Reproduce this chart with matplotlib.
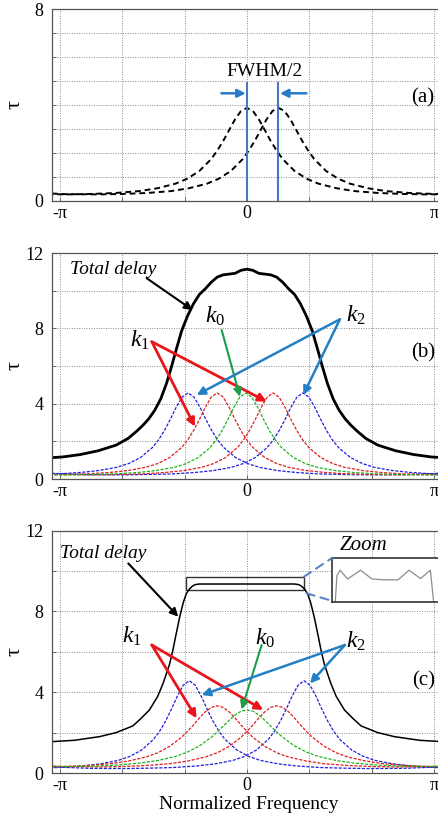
import numpy as np
import matplotlib
matplotlib.use("Agg")
import matplotlib.pyplot as plt
from matplotlib.patches import Rectangle, ConnectionPatch

plt.rcParams['font.family'] = ['Liberation Serif', 'DejaVu Serif']
plt.rcParams['mathtext.fontset'] = 'custom'
plt.rcParams['mathtext.rm'] = 'Liberation Serif'
plt.rcParams['mathtext.it'] = 'Liberation Serif:italic'

PI = np.pi

# ---- data ----
# one-sided offsets from a resonance centre (rad) and the delay at that offset
dx_half = [0, 0.1, 0.2, 0.3, 0.4, 0.5, 0.6, 0.8, 1.0, 1.2, 1.5, 1.8, 2.2, 2.6, 3.0, 3.6, 4.3]
tau_a = [3.88, 3.75, 3.40, 2.95, 2.49, 2.09, 1.74, 1.24, 0.92, 0.71, 0.52, 0.40, 0.32, 0.28, 0.26, 0.27, 0.36]
tau_k = [4.57, 4.35, 3.81, 3.16, 2.56, 2.06, 1.67, 1.14, 0.82, 0.62, 0.45, 0.35, 0.27, 0.24, 0.22, 0.23, 0.31]
tau_red_c = [3.33, 3.25, 3.03, 2.72, 2.38, 2.06, 1.77, 1.32, 1.00, 0.79, 0.59, 0.46, 0.37, 0.32, 0.30, 0.32, 0.41]
tau_green_c = [3.12, 3.06, 2.87, 2.61, 2.32, 2.03, 1.77, 1.34, 1.04, 0.82, 0.62, 0.49, 0.39, 0.34, 0.32, 0.34, 0.44]

centres_a = [0.0, 0.53]
centres_b = {'blue': [-0.99, 0.94], 'red': [-0.50, 0.44], 'green': [-0.02]}
centres_c = {'blue': [-0.97, 0.96], 'red': [-0.50, 0.50], 'green': [0.0]}

# total delay, one-sided (symmetric about 0)
tot_b_x = [0, 0.1, 0.2, 0.3, 0.4, 0.5, 0.6, 0.7, 0.8, 0.9, 1.0, 1.1, 1.2, 1.27, 1.35, 1.45, 1.55,
           1.65, 1.75, 1.85, 2.0, 2.2, 2.5, 2.8, 3.1, 3.3]
tot_b_y = [11.14, 11.08, 10.92, 10.88, 10.84, 10.72, 10.45, 10.1, 9.8, 9.3, 8.65, 7.85, 6.75,
           5.95, 5.1, 4.25, 3.65, 3.2, 2.85, 2.55, 2.15, 1.8, 1.5, 1.3, 1.17, 1.13]
tot_c_x = [0, 0.5, 0.8, 0.87, 0.92, 0.97, 1.02, 1.07, 1.13, 1.2, 1.245, 1.3, 1.41, 1.5, 1.64,
           1.8, 1.92, 2.2, 2.48, 2.9, 3.3]
tot_c_y = [9.36, 9.36, 9.36, 9.33, 9.25, 9.1, 8.88, 8.45, 7.74, 6.75, 6.09, 5.4, 4.44, 3.8,
           3.12, 2.65, 2.33, 2.0, 1.8, 1.62, 1.55]

# zoomed flat top (inset, arbitrary units)
zoom_u = [0.03, 0.045, 0.074, 0.142, 0.26, 0.363, 0.48, 0.6, 0.70, 0.805, 0.894, 0.924]
zoom_v = [0.0, 0.6, 0.72, 0.52, 0.72, 0.52, 0.50, 0.50, 0.72, 0.53, 0.72, 0.0]


def full(dx, tau):
    dx = np.array(dx)
    tau = np.array(tau)
    return np.concatenate([-dx[:0:-1], dx]), np.concatenate([tau[:0:-1], tau])


W, H = 439, 819
fig = plt.figure(figsize=(W / 100, H / 100), dpi=100)

XL, XR = 52, 445
xlim = (-3.278, 3.33)


def make_ax(top, bottom):
    return fig.add_axes([XL / W, 1 - bottom / H, (XR - XL) / W, (bottom - top) / H])


grid_kw = dict(color='#8a8a8a', linestyle=(0, (1, 1.5)), linewidth=0.7)
xt = [-PI, -2 * PI / 3, -PI / 3, 0, PI / 3, 2 * PI / 3, PI]
xtl = ['-π', '', '', '0', '', '', 'π']


def style(ax, ymax, ystep, ylabels):
    ax.set_xlim(*xlim)
    ax.set_ylim(0, ymax)
    ax.set_xticks(xt)
    ax.set_xticklabels(xtl)
    yt = np.arange(0, ymax + 0.1, ystep)
    ax.set_yticks(yt)
    ax.set_yticklabels([str(int(v)) if int(v) in ylabels else '' for v in yt])
    ax.grid(True, **grid_kw)
    ax.tick_params(direction='in', length=3, width=0.6, color='#555555',
                   labelsize=13, pad=3)
    ax.tick_params(axis='y', pad=6)
    for s in ax.spines.values():
        s.set_color('#555555')
        s.set_linewidth(0.9)
    ax.set_ylabel('τ', fontsize=16, rotation=90)
    ax.yaxis.label.set_va('center')
    ax.yaxis.set_label_coords(-0.094, 0.5)
    ax.set_axisbelow(True)


# ---------- (a) ----------
ax_a = make_ax(9.4, 200.6)
style(ax_a, 8, 1, [0, 8])
for c in centres_a:
    x, y = full(dx_half, tau_a)
    ax_a.plot(x + c, y, color='black', linestyle=(0, (3, 2)), linewidth=1.4)
for c in centres_a:
    ax_a.plot([c, c], [0, 4.9], color='#4a78c0', linewidth=1.5)
ax_a.text(0.30, 5.39, 'FWHM/2', fontsize=14, ha='center', va='center')
arr_blue = dict(arrowstyle='-|>', color='#2a7cc7', lw=1.8, mutation_scale=12,
                shrinkA=0, shrinkB=0)
ax_a.annotate('', xy=(-0.02, 4.49), xytext=(-0.43, 4.49), arrowprops=arr_blue)
ax_a.annotate('', xy=(0.555, 4.49), xytext=(1.0, 4.49), arrowprops=arr_blue)
ax_a.text(2.76, 4.28, '(a)', fontsize=15, ha='left', va='center')

# ---------- (b) and (c) ----------
col = {'blue': '#1f1fe0', 'red': '#e01f1f', 'green': '#1fb41f'}
arr = lambda c, lw=1.8: dict(arrowstyle='-|>', color=c, lw=lw, mutation_scale=12,
                             shrinkA=0, shrinkB=0)
k_red, k_green, k_blue = '#e8161c', '#1a9e48', '#2480c4'


def klabel(ax, x, y, sub):
    ax.text(x, y, r'$\mathit{k}_{\mathit{%s}}$' % sub, fontsize=17, ha='center', va='center')


ax_b = make_ax(253, 479)
style(ax_b, 12, 2, [0, 4, 8, 12])
profile_b = {'blue': tau_k, 'red': tau_k, 'green': tau_k}
for name in ['blue', 'red', 'green']:
    for c in centres_b[name]:
        x, y = full(dx_half, profile_b[name])
        ax_b.plot(x + c, y, color=col[name], linestyle=(0, (2.5, 1.2)), linewidth=0.9)
x, y = full(tot_b_x, tot_b_y)
ax_b.plot(x, y, color='black', linewidth=2.0)
ax_b.text(-2.975, 11.1, 'Total delay', fontsize=14, style='italic', ha='left', va='center')
ax_b.annotate('', xy=(-0.913, 8.97), xytext=(-1.686, 10.66), arrowprops=arr('black', 1.5))
klabel(ax_b, -1.80, 7.38, '1')
ax_b.annotate('', xy=(-0.874, 2.78), xytext=(-1.60, 7.29), arrowprops=arr(k_red, 2.0))
ax_b.annotate('', xy=(0.331, 4.11), xytext=(-1.60, 7.29), arrowprops=arr(k_red, 2.0))
klabel(ax_b, -0.54, 8.66, '0')
ax_b.annotate('', xy=(-0.118, 4.37), xytext=(-0.425, 7.91), arrowprops=arr(k_green, 1.5))
klabel(ax_b, 1.83, 8.71, '2')
ax_b.annotate('', xy=(-0.846, 4.46), xytext=(1.563, 8.48), arrowprops=arr(k_blue, 1.8))
ax_b.annotate('', xy=(0.947, 4.46), xytext=(1.563, 8.48), arrowprops=arr(k_blue, 1.8))
ax_b.text(2.76, 6.7, '(b)', fontsize=15, ha='left', va='center')

ax_c = make_ax(530.7, 773)
style(ax_c, 12, 2, [0, 4, 8, 12])
profile_c = {'blue': tau_k, 'red': tau_red_c, 'green': tau_green_c}
for name in ['blue', 'red', 'green']:
    for c in centres_c[name]:
        x, y = full(dx_half, profile_c[name])
        ax_c.plot(x + c, y, color=col[name], linestyle=(0, (2.5, 1.2)), linewidth=0.9)
x, y = full(tot_c_x, tot_c_y)
ax_c.plot(x, y, color='black', linewidth=1.1)
ax_c.add_patch(Rectangle((-1.025, 9.06), 1.983, 0.63, fill=False, edgecolor='#333333', lw=1.0))
ax_c.text(-3.14, 10.88, 'Total delay', fontsize=14, style='italic', ha='left', va='center')
ax_c.annotate('', xy=(-1.155, 7.74), xytext=(-1.995, 10.38), arrowprops=arr('black', 1.5))
klabel(ax_c, -1.94, 6.75, '1')
ax_c.annotate('', xy=(-0.846, 2.71), xytext=(-1.60, 6.34), arrowprops=arr(k_red, 2.0))
ax_c.annotate('', xy=(0.274, 3.12), xytext=(-1.60, 6.34), arrowprops=arr(k_red, 2.0))
klabel(ax_c, 0.30, 6.67, '0')
ax_c.annotate('', xy=(-0.089, 3.15), xytext=(0.247, 6.34), arrowprops=arr(k_green, 1.5))
klabel(ax_c, 1.83, 6.5, '2')
ax_c.annotate('', xy=(-0.76, 3.86), xytext=(1.647, 6.34), arrowprops=arr(k_blue, 1.8))
ax_c.annotate('', xy=(1.06, 4.44), xytext=(1.647, 6.34), arrowprops=arr(k_blue, 1.8))
ax_c.text(2.78, 4.55, '(c)', fontsize=15, ha='left', va='center')
ax_c.set_xlabel('Normalized Frequency', fontsize=14, labelpad=1)

# inset with the zoomed flat top
ins = fig.add_axes([332 / W, 1 - 601.7 / H, (442 - 332) / W, (601.7 - 558) / H])
ins.plot(zoom_u, zoom_v, color='#8c8c8c', linewidth=0.9)
ins.set_xlim(0, 1)
ins.set_ylim(0, 1)
ins.set_xticks([])
ins.set_yticks([])
for s in ins.spines.values():
    s.set_color('#333333')
    s.set_linewidth(1.2)
fig.text(340 / W, 1 - 545 / H, 'Zoom', fontsize=15, style='italic', ha='left', va='center')
for (xa, ya), (xb, yb) in [((0.958, 9.72), (0, 1)), ((1.0, 8.9), (0, 0.02))]:
    con = ConnectionPatch(xyA=(xa, ya), coordsA=ax_c.transData, xyB=(xb, yb),
                          coordsB=ins.transAxes, linestyle=(0, (4, 3)), color='#5b84c4', lw=1.5)
    fig.add_artist(con)

fig.savefig('out.png', dpi=100)
